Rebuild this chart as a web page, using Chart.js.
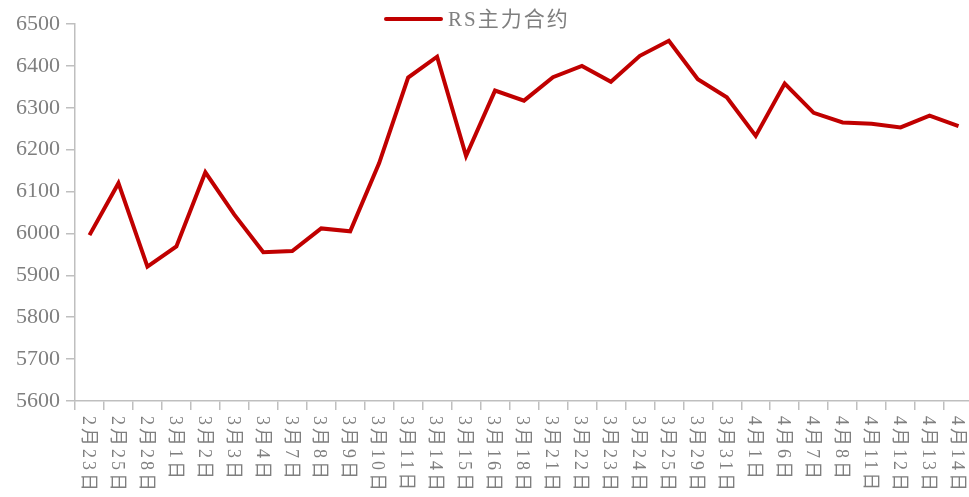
<!DOCTYPE html>
<html>
<head>
<meta charset="utf-8">
<script src="https://cdn.jsdelivr.net/npm/chart.js@4/dist/chart.umd.min.js"></script>
<style>
  html, body { margin: 0; padding: 0; background: #fff; overflow: hidden; }
  #wrap { width: 976px; height: 497px; position: relative; }
</style>
</head>
<body>
<div id="wrap"><canvas id="rsChart"></canvas></div>
<script>
const dates = ['2月23日', '2月25日', '2月28日', '3月1日', '3月2日', '3月3日', '3月4日', '3月7日',
    '3月8日', '3月9日', '3月10日', '3月11日', '3月14日', '3月15日', '3月16日', '3月18日',
    '3月21日', '3月22日', '3月23日', '3月24日', '3月25日', '3月29日', '3月31日', '4月1日',
    '4月6日', '4月7日', '4月8日', '4月11日', '4月12日', '4月13日', '4月14日'];
const rsMain = [5996, 6120, 5921, 5969, 6146, 6045, 5955, 5958, 6012, 6005, 6168, 6372,
    6422, 6185, 6341, 6317, 6373, 6400, 6362, 6424, 6460, 6368, 6325, 6233, 6358, 6288,
    6265, 6262, 6253, 6281, 6256];
const seriesName = 'RS主力合约';
const yMin = 5600, yMax = 6500, yStep = 100;

const grey = '#7f7f7f';
const axisGrey = '#bfbfbf';
const lineRed = '#c00000';

// x labels read top-to-bottom, and the legend sits over the plot top,
// so both are drawn here
const extraText = {
    id: 'extraText',
    afterDraw(chart) {
        const scale = chart.scales.x;
        const ctx = chart.ctx;
        ctx.save();
        ctx.fillStyle = grey;
        ctx.font = '18px "Liberation Serif", "Noto Sans CJK SC", serif';
        ctx.letterSpacing = '3px';
        ctx.textAlign = 'left';
        ctx.textBaseline = 'middle';
        dates.forEach((d, i) => {
            const x = scale.getPixelForTick(i) - 2;
            ctx.save();
            ctx.translate(x, scale.top + 15);
            ctx.rotate(Math.PI / 2);
            ctx.fillText(d, 0, 0);
            ctx.restore();
        });
        ctx.restore();

        // legend
        const ds = chart.data.datasets[0];
        ctx.save();
        ctx.strokeStyle = ds.borderColor;
        ctx.lineWidth = 4;
        ctx.lineCap = 'round';
        ctx.beginPath();
        ctx.moveTo(386, 19);
        ctx.lineTo(441, 19);
        ctx.stroke();
        ctx.fillStyle = grey;
        ctx.font = '21px "Liberation Serif", "Noto Sans CJK SC", serif';
        ctx.letterSpacing = '2px';
        ctx.textAlign = 'left';
        ctx.textBaseline = 'middle';
        ctx.fillText(ds.label, 448, 20);
        ctx.restore();
    }
};

new Chart(document.getElementById('rsChart'), {
    type: 'line',
    data: {
        labels: dates,
        datasets: [{
            label: seriesName,
            data: rsMain,
            borderColor: lineRed,
            backgroundColor: lineRed,
            borderWidth: 4,
            pointRadius: 0,
            tension: 0
        }]
    },
    options: {
        responsive: true,
        maintainAspectRatio: false,
        animation: false,
        layout: { padding: { top: 24, right: 3, bottom: 0, left: 0 } },
        plugins: {
            legend: { display: false },
            tooltip: { enabled: false }
        },
        scales: {
            x: {
                offset: true,
                grid: { drawOnChartArea: false, drawTicks: true, tickLength: 9, color: axisGrey, lineWidth: 1.5, offset: true },
                border: { color: axisGrey, width: 1.5 },
                ticks: { display: false },
                afterFit(scale) { scale.height = 96; }
            },
            y: {
                min: yMin,
                max: yMax,
                grid: { drawOnChartArea: false, drawTicks: true, tickLength: 9, color: axisGrey, lineWidth: 1.5 },
                border: { color: axisGrey, width: 1.5 },
                ticks: {
                    stepSize: yStep,
                    color: grey,
                    padding: 6,
                    font: { family: '"Liberation Serif", serif', size: 22 },
                    callback: v => String(v)
                },
                afterFit(scale) { scale.width = 75; }
            }
        }
    },
    plugins: [extraText]
});
</script>
</body>
</html>
